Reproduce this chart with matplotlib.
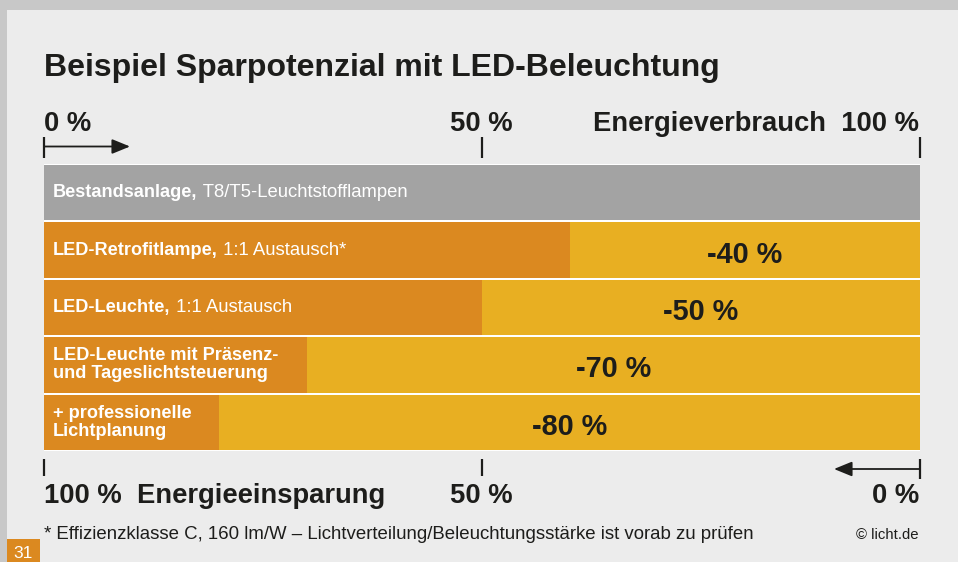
import matplotlib
matplotlib.use("Agg")
import matplotlib.pyplot as plt
from matplotlib.patches import Rectangle

plt.rcParams['font.family'] = ['Liberation Sans', 'DejaVu Sans']

# ---- data ----
labels_bold = ["Bestandsanlage,", "LED-Retrofitlampe,", "LED-Leuchte,",
               "LED-Leuchte mit Präsenz-\nund Tageslichtsteuerung",
               "+ professionelle\nLichtplanung"]
labels_regular = [" T8/T5-Leuchtstofflampen", " 1:1 Austausch*", " 1:1 Austausch", "", ""]
consumption = [100, 60, 50, 30, 20]          # % energy consumption
savings = [0, 40, 50, 70, 80]                # % savings
top_ticks = [0, 50, 100]
title = "Beispiel Sparpotenzial mit LED-Beleuchtung"
footnote = "* Effizienzklasse C, 160 lm/W – Lichtverteilung/Beleuchtungsstärke ist vorab zu prüfen"
credit = "© licht.de"
page = "31"

# ---- style ----
W, H = 958, 562
BG_OUT = "#c8c8c8"
BG_IN = "#ececec"
GRAY = "#a3a3a3"
ORANGE = "#db8920"
YELLOW = "#e8af22"
DARK = "#1d1d1b"
AXFS = 19.7

fig = plt.figure(figsize=(W / 100, H / 100), dpi=100, facecolor=BG_OUT)

# overlay axes in pixel coordinates for decoration
ov = fig.add_axes([0, 0, 1, 1])
ov.set_xlim(0, W)
ov.set_ylim(H, 0)
ov.axis('off')
ov.add_patch(Rectangle((7, 10), W - 7, H - 10, facecolor=BG_IN, edgecolor='none', zorder=0))
ov.add_patch(Rectangle((7, 539), 33, 23, facecolor=ORANGE, edgecolor='none', zorder=1))
ov.text(23.5, 561.5, page, color='white', fontsize=12.5, ha='center', va='bottom')

# title
ov.text(44, 76, title, fontsize=23, fontweight='bold', color=DARK, ha='left', va='baseline')

# bar axes: x from 44 to 920 px, y from 164 to 451 px
X0, X1 = 44, 920
Y0, Y1 = 164, 451
ax = fig.add_axes([X0 / W, 1 - Y1 / H, (X1 - X0) / W, (Y1 - Y0) / H])
ax.set_facecolor('white')
for s in ax.spines.values():
    s.set_visible(False)
ax.set_xticks([])
ax.set_yticks([])
n = len(consumption)
ypos = list(range(n))
bh = 0.965
colors = [GRAY] + [ORANGE] * (n - 1)
ax.barh(ypos, consumption, height=bh, color=colors, edgecolor='none')
ax.barh(ypos, savings, left=consumption, height=bh, color=YELLOW, edgecolor='none')
ax.set_xlim(0, 100)
ax.set_ylim(n - 0.5, -0.5)

for i in ypos:
    t = ax.annotate(labels_bold[i], xy=(0, i), xytext=(6.5, 0), textcoords='offset points',
                    fontsize=13.1, fontweight='bold', color='white', ha='left', va='center',
                    linespacing=1.08)
    if labels_regular[i]:
        ax.annotate(labels_regular[i], xy=(1, 0), xycoords=t, fontsize=13.3,
                    color='white', ha='left', va='bottom')
    if savings[i] > 0:
        ax.annotate(f"-{savings[i]} %", xy=(consumption[i] + savings[i] / 2, i),
                    xytext=(0, -9), textcoords='offset points',
                    fontsize=20.8, fontweight='bold', color=DARK, ha='center', va='baseline')

# top axis labels and ticks
def px(v):
    return X0 + (X1 - X0) * v / 100.0

ov.text(px(0), 131, "0 %", fontsize=AXFS, fontweight='bold', color=DARK, ha='left', va='baseline')
ov.text(px(50) - 1, 131, "50 %", fontsize=AXFS, fontweight='bold', color=DARK, ha='center', va='baseline')
ov.text(px(100) - 1, 131, "Energieverbrauch  100 %", fontsize=AXFS, fontweight='bold', color=DARK,
        ha='right', va='baseline')
for v in top_ticks:
    ov.plot([px(v), px(v)], [137, 158], color=DARK, lw=1.6, solid_capstyle='butt')
ov.annotate("", xy=(130, 146.5), xytext=(px(0), 146.5),
            arrowprops=dict(arrowstyle='-|>,head_length=1.1,head_width=0.45', color=DARK, lw=1.3,
                            shrinkA=0, shrinkB=0))

# bottom axis labels and ticks
ov.text(px(0), 503, "100 %  Energieeinsparung", fontsize=AXFS, fontweight='bold', color=DARK,
        ha='left', va='baseline')
ov.text(px(50) - 1, 503, "50 %", fontsize=AXFS, fontweight='bold', color=DARK, ha='center', va='baseline')
ov.text(px(100) - 1, 503, "0 %", fontsize=AXFS, fontweight='bold', color=DARK, ha='right', va='baseline')
for v in top_ticks[:2]:
    ov.plot([px(v), px(v)], [459, 476], color=DARK, lw=1.6, solid_capstyle='butt')
ov.plot([px(100), px(100)], [459, 479], color=DARK, lw=1.6, solid_capstyle='butt')
ov.annotate("", xy=(834, 469), xytext=(px(100), 469),
            arrowprops=dict(arrowstyle='-|>,head_length=1.1,head_width=0.45', color=DARK, lw=1.3,
                            shrinkA=0, shrinkB=0))

# footnote
ov.text(44, 539, footnote, fontsize=13.4, color=DARK, ha='left', va='baseline')
ov.text(919, 539, credit, fontsize=10.7, color=DARK, ha='right', va='baseline')

fig.savefig("out.png", dpi=100, facecolor=BG_OUT)
